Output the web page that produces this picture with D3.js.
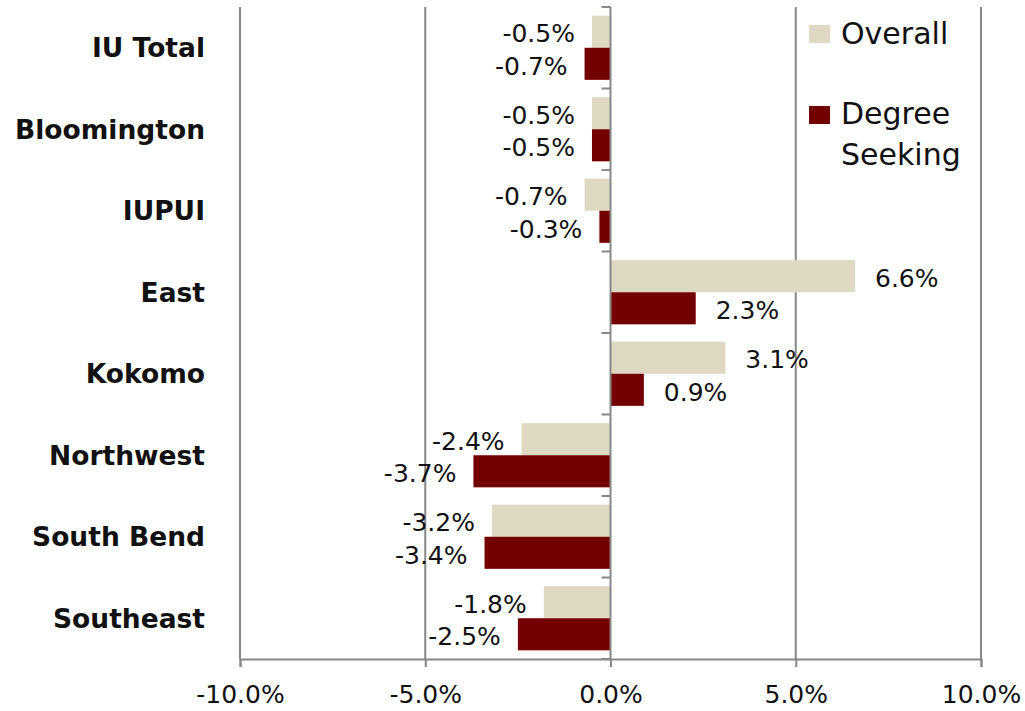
<!DOCTYPE html>
<html>
<head>
<meta charset="utf-8">
<script src="https://cdn.jsdelivr.net/npm/d3@7"></script>
<style>
  body { margin: 0; background: #fff; }
  text { font-family: "DejaVu Sans", sans-serif; fill: #111; }
</style>
</head>
<body>
<svg id="root"></svg>
<script>
var width = 1025,
    height = 711,
    margin = {top: 7, right: 44, bottom: 52, left: 240};

var campuses = ['IU Total', 'Bloomington', 'IUPUI', 'East', 'Kokomo', 'Northwest', 'South Bend', 'Southeast'];
var overall = [-0.5, -0.5, -0.7, 6.6, 3.1, -2.4, -3.2, -1.8];
var degreeSeeking = [-0.7, -0.5, -0.3, 2.3, 0.9, -3.7, -3.4, -2.5];
var xTicks = [-10, -5, 0, 5, 10];
var seriesNames = ['Overall', 'Degree Seeking'];
var colors = ['#DDD9C3', '#730000'];

var root = d3.select('#root')
    .attr('width', width)
    .attr('height', height);

var x = d3.scaleLinear()
    .domain([-10, 10])
    .range([margin.left, width - margin.right]);

var y = d3.scaleBand()
    .domain(campuses)
    .range([margin.top, height - margin.bottom]);

var inner = d3.scaleBand()
    .domain(seriesNames)
    .range([0, y.bandwidth()])
    .paddingOuter(0.27)
    .paddingInner(0);

var grey = '#878787';

// vertical gridlines
root.append('g')
    .selectAll('line')
    .data(xTicks.filter(function(d) { return d !== 0; }))
    .enter()
        .append('line')
        .attr('x1', function(d) { return x(d); })
        .attr('x2', function(d) { return x(d); })
        .attr('y1', margin.top)
        .attr('y2', height - margin.bottom)
        .attr('stroke', grey)
        .attr('stroke-width', 2);

// bottom axis
var xAxis = root.append('g')
    .attr('transform', 'translate(0,' + (height - margin.bottom) + ')')
    .call(d3.axisBottom(x)
        .tickValues(xTicks)
        .tickSize(8)
        .tickPadding(18)
        .tickFormat(function(d) { return d.toFixed(1) + '%'; }));
xAxis.select('.domain').attr('stroke', grey).attr('stroke-width', 2);
xAxis.selectAll('.tick line').attr('stroke', grey).attr('stroke-width', 2);
xAxis.selectAll('.tick text')
    .attr('font-size', 25)
    .attr('fill', '#111')
    .style('font-family', '"DejaVu Sans", sans-serif');

// bars
var rows = campuses.map(function(c, i) {
    return {campus: c, values: [
        {name: seriesNames[0], value: overall[i], color: colors[0]},
        {name: seriesNames[1], value: degreeSeeking[i], color: colors[1]}
    ]};
});

var group = root.selectAll('.row')
    .data(rows)
    .enter()
        .append('g')
        .attr('class', 'row')
        .attr('transform', function(d) { return 'translate(0,' + y(d.campus) + ')'; });

group.selectAll('rect')
    .data(function(d) { return d.values; })
    .enter()
        .append('rect')
        .attr('x', function(d) { return x(Math.min(0, d.value)); })
        .attr('width', function(d) { return Math.abs(x(d.value) - x(0)); })
        .attr('y', function(d) { return inner(d.name); })
        .attr('height', inner.bandwidth())
        .attr('fill', function(d) { return d.color; });

// vertical axis at zero
var yAxis = root.append('g')
    .attr('transform', 'translate(' + x(0) + ',0)');
yAxis.append('line')
    .attr('x1', 0).attr('x2', 0)
    .attr('y1', margin.top).attr('y2', height - margin.bottom)
    .attr('stroke', grey)
    .attr('stroke-width', 2);
yAxis.selectAll('.btick')
    .data(campuses.map(function(c) { return y(c); }).concat([height - margin.bottom]))
    .enter()
        .append('line')
        .attr('x1', -9).attr('x2', 0)
        .attr('y1', function(d) { return d; })
        .attr('y2', function(d) { return d; })
        .attr('stroke', grey)
        .attr('stroke-width', 2);

// data labels
group.selectAll('.lbl')
    .data(function(d) { return d.values; })
    .enter()
        .append('text')
        .attr('class', 'lbl')
        .attr('x', function(d) { return d.value < 0 ? x(d.value) - 17 : x(d.value) + 20; })
        .attr('y', function(d) { return inner(d.name) + inner.bandwidth() / 2 + 2; })
        .attr('dy', '0.35em')
        .attr('text-anchor', function(d) { return d.value < 0 ? 'end' : 'start'; })
        .attr('font-size', 25)
        .text(function(d) { return d.value.toFixed(1) + '%'; });

// category labels
root.append('g')
    .selectAll('text')
    .data(campuses)
    .enter()
        .append('text')
        .attr('x', 205)
        .attr('y', function(d) { return y(d) + y.bandwidth() / 2; })
        .attr('dy', '0.35em')
        .attr('text-anchor', 'end')
        .attr('font-size', 26.5)
        .attr('font-weight', 'bold')
        .text(function(d) { return d; });

// legend
var legend = root.append('g').attr('transform', 'translate(809,0)');
legend.append('rect')
    .attr('x', 0).attr('y', 25).attr('width', 21).attr('height', 18)
    .attr('fill', colors[0]);
legend.append('text')
    .attr('x', 32).attr('y', 44)
    .attr('font-size', 30)
    .text(seriesNames[0]);
legend.append('rect')
    .attr('x', 0).attr('y', 106).attr('width', 21).attr('height', 18)
    .attr('fill', colors[1]);
legend.append('text')
    .attr('x', 32).attr('y', 124)
    .attr('font-size', 30)
    .text('Degree');
legend.append('text')
    .attr('x', 32).attr('y', 165)
    .attr('font-size', 30)
    .text('Seeking');
</script>
</body>
</html>
